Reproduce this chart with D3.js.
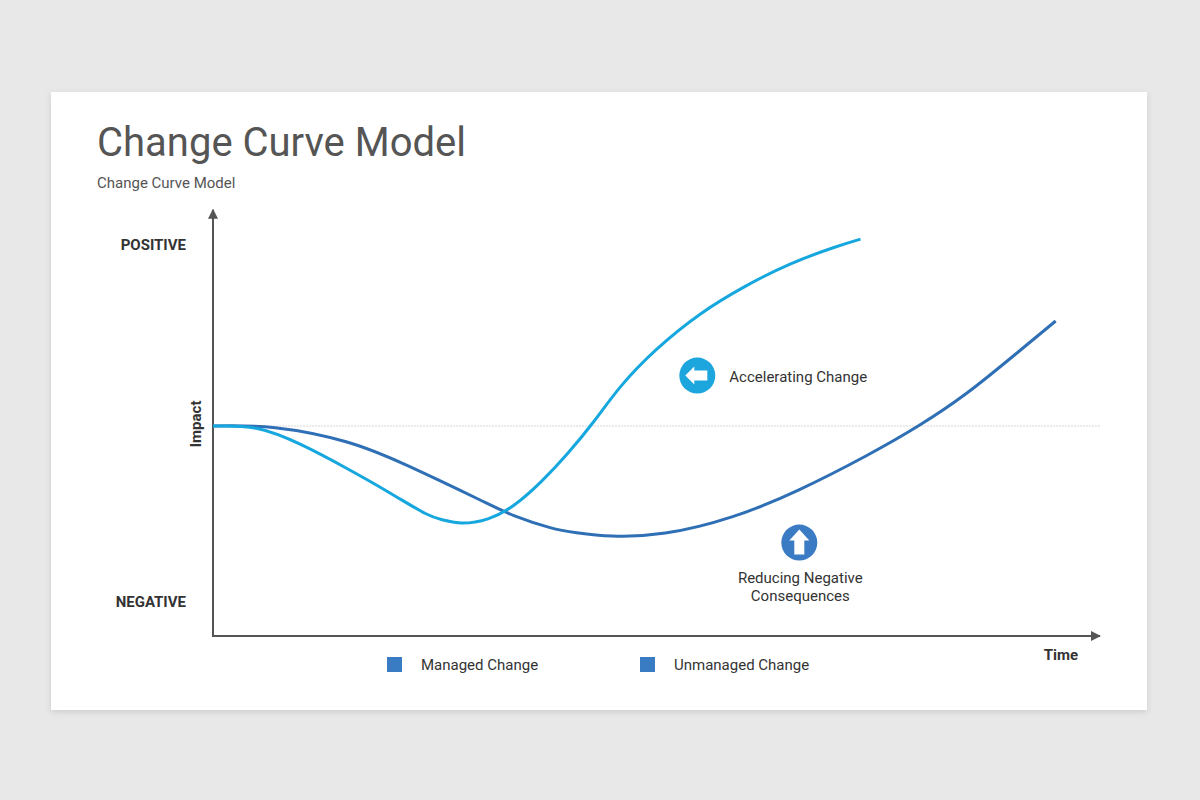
<!DOCTYPE html>
<html lang="en">

<head>
    <meta charset="UTF-8">
    <title>Change Curve Model</title>
    <script src="https://unpkg.com/d3@7.8.5/dist/d3.min.js"></script>
    <style>
        * {
            margin: 0;
            padding: 0;
            box-sizing: border-box;
        }

        body {
            width: 1200px;
            height: 800px;
            background: #e9e8e9;
            font-family: Roboto, "Noto Sans", sans-serif;
            overflow: hidden;
        }
    </style>
</head>

<body>
    <svg class="cc" width="1200" height="800"></svg>
    <script>
        // 时间轴 0-100, 影响 -100(NEGATIVE) ~ 100(POSITIVE)
        const managedX = [0, 5, 10, 15, 20, 24, 26, 28, 31, 34, 37, 40, 43, 46, 50, 55, 60, 65, 70, 73]
        const managedY = [0, -1.2, -9, -20, -32, -41.8, -44.8, -46.2, -44.2, -37.5, -26.5, -13, 2.5, 19, 36.5, 53.5, 66.5, 77, 85, 89]

        const unmanagedX = [0, 7, 15, 22, 30, 34, 38, 41, 45, 51, 58.5, 66, 73.5, 79.5, 85, 90.5, 95]
        const unmanagedY = [0, -0.8, -7.5, -19, -35, -42.8, -48.4, -50.8, -52.4, -51, -43.3, -30.5, -14.5, 0, 15.7, 34.3, 50]

        const legendLabels = ['Managed Change', 'Unmanaged Change']
        const levelLabels = ['POSITIVE', 'NEGATIVE']
        const levelValues = [86, -84]

        // 注释 [x, y]
        const accelPos = [54.6, 24]
        const reducePos = [66.1, -55.5]

        const svg = d3.select('svg')

        const defs = svg.append('defs')
        const filter = defs.append('filter').attr('id', 'shadow')
            .attr('x', '-5%').attr('y', '-5%').attr('width', '110%').attr('height', '115%')
        filter.append('feDropShadow')
            .attr('dx', 0).attr('dy', 2).attr('stdDeviation', 3)
            .attr('flood-color', '#000').attr('flood-opacity', 0.12)

        // 卡片
        svg.append('rect')
            .attr('x', 51).attr('y', 92)
            .attr('width', 1096).attr('height', 618)
            .attr('fill', '#fff')
            .attr('filter', 'url(#shadow)')

        svg.append('text')
            .attr('x', 97).attr('y', 156)
            .attr('font-size', 40)
            .attr('fill', '#555')
            .text('Change Curve Model')

        svg.append('text')
            .attr('x', 97).attr('y', 188)
            .attr('font-size', 15)
            .attr('fill', '#555')
            .text('Change Curve Model')

        const x = d3.scaleLinear().domain([0, 100]).range([213, 1100])
        const y = d3.scaleLinear().domain([-100, 100]).range([636, 216])

        // 基线
        svg.append('line')
            .attr('x1', x(0)).attr('x2', x(100))
            .attr('y1', y(0)).attr('y2', y(0))
            .attr('stroke', '#d6d6d6')
            .attr('stroke-width', 1)
            .attr('stroke-dasharray', '2,1')

        // 箭头
        defs.append('marker')
            .attr('id', 'arrow')
            .attr('viewBox', '0 0 10 10')
            .attr('refX', 9).attr('refY', 5)
            .attr('markerWidth', 5).attr('markerHeight', 5)
            .attr('markerUnits', 'strokeWidth')
            .attr('orient', 'auto')
            .append('path')
            .attr('d', 'M0,0 L10,5 L0,10 Z')
            .attr('fill', '#555')

        svg.append('line')
            .attr('x1', x(0)).attr('y1', y(-100))
            .attr('x2', x(0)).attr('y2', y(103))
            .attr('stroke', '#555').attr('stroke-width', 2)
            .attr('marker-end', 'url(#arrow)')

        svg.append('line')
            .attr('x1', x(0) - 1).attr('y1', y(-100))
            .attr('x2', x(100)).attr('y2', y(-100))
            .attr('stroke', '#555').attr('stroke-width', 2)
            .attr('marker-end', 'url(#arrow)')

        svg.selectAll('.level')
            .data(levelLabels)
            .enter().append('text')
            .attr('class', 'level')
            .attr('x', 186)
            .attr('y', (d, i) => y(levelValues[i]) + 5)
            .attr('text-anchor', 'end')
            .attr('font-size', 15)
            .attr('font-weight', 'bold')
            .attr('fill', '#333')
            .text(d => d)

        svg.append('text')
            .attr('transform', `translate(201,${y(1)}) rotate(-90)`)
            .attr('text-anchor', 'middle')
            .attr('font-size', 15)
            .attr('font-weight', 'bold')
            .attr('fill', '#333')
            .text('Impact')

        svg.append('text')
            .attr('x', 1078).attr('y', 660)
            .attr('text-anchor', 'end')
            .attr('font-size', 15)
            .attr('font-weight', 'bold')
            .attr('fill', '#333')
            .text('Time')

        // 曲线
        const line = d3.line()
            .x(d => x(d[0]))
            .y(d => y(d[1]))
            .curve(d3.curveNatural)

        const unmanaged = unmanagedX.map((v, i) => [v, unmanagedY[i]])
        const managed = managedX.map((v, i) => [v, managedY[i]])

        svg.append('path')
            .datum(unmanaged)
            .attr('d', line)
            .attr('fill', 'none')
            .attr('stroke', '#2f6fb5')
            .attr('stroke-width', 3)

        svg.append('path')
            .datum(managed)
            .attr('d', line)
            .attr('fill', 'none')
            .attr('stroke', '#15a7de')
            .attr('stroke-width', 3)

        // 加速图标
        const accel = svg.append('g')
            .attr('transform', `translate(${x(accelPos[0])},${y(accelPos[1])})`)
        accel.append('circle').attr('r', 18).attr('fill', '#1da6dd')
        accel.append('path')
            .attr('d', 'M-12,0 L-3,-9 L-3,-5 L10,-5 L10,5 L-3,5 L-3,9 Z')
            .attr('fill', '#fff')
        svg.append('text')
            .attr('x', x(accelPos[0]) + 32)
            .attr('y', y(accelPos[1]) + 6)
            .attr('font-size', 15)
            .attr('fill', '#333')
            .text('Accelerating Change')

        // 减少图标
        const reduce = svg.append('g')
            .attr('transform', `translate(${x(reducePos[0])},${y(reducePos[1])})`)
        reduce.append('circle').attr('r', 18).attr('fill', '#3b7bc3')
        reduce.append('path')
            .attr('d', 'M0,-13 L10,-2 L5,-2 L5,12 L-5,12 L-5,-2 L-10,-2 Z')
            .attr('fill', '#fff')
        svg.append('text')
            .attr('x', x(reducePos[0]) + 1)
            .attr('y', y(reducePos[1]) + 40)
            .attr('text-anchor', 'middle')
            .attr('font-size', 15)
            .attr('fill', '#333')
            .selectAll('tspan')
            .data(['Reducing Negative', 'Consequences'])
            .enter().append('tspan')
            .attr('x', x(reducePos[0]) + 1)
            .attr('dy', (d, i) => i ? 18 : 0)
            .text(d => d)

        // 图例
        const legend = svg.selectAll('.legend')
            .data(legendLabels)
            .enter().append('g')
            .attr('class', 'legend')
            .attr('transform', (d, i) => `translate(${387 + i * 253},657)`)
        legend.append('rect')
            .attr('width', 15).attr('height', 15)
            .attr('fill', '#3a7cc4')
        legend.append('text')
            .attr('x', 34).attr('y', 13)
            .attr('font-size', 15)
            .attr('fill', '#333')
            .text(d => d)
    </script>
</body>

</html>
